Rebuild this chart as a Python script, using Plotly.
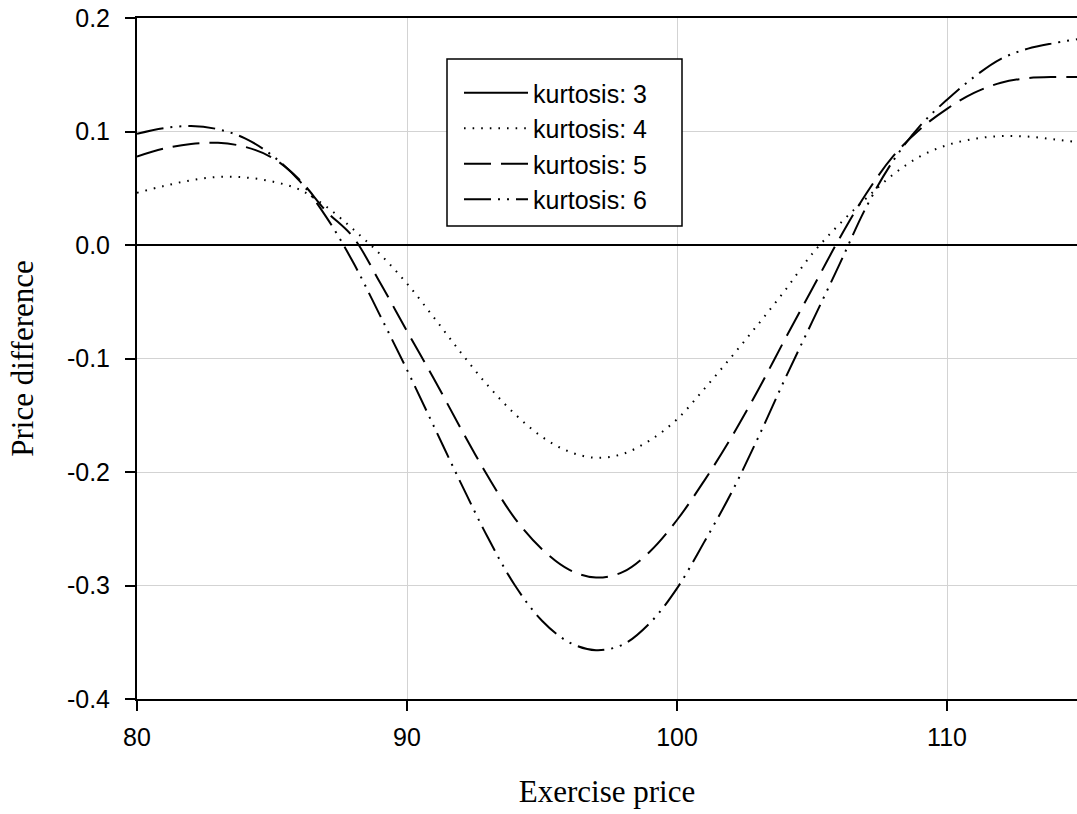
import plotly.graph_objects as go

exercise_price = [80, 81, 82, 83, 84, 85, 86, 87, 88, 89, 90, 91, 92, 93, 94, 95, 96, 97,
                  98, 99, 100, 101, 102, 103, 104, 105, 106, 107, 108, 109, 110, 111, 112,
                  113, 114, 115]

kurtosis_3 = [0.0] * len(exercise_price)

kurtosis_4 = [0.046, 0.052, 0.057, 0.060, 0.0595, 0.056, 0.049, 0.034, 0.014, -0.008,
              -0.034, -0.064, -0.095, -0.124, -0.149, -0.169, -0.182, -0.1875, -0.184,
              -0.172, -0.1536, -0.127, -0.099, -0.070, -0.040, -0.008, 0.018, 0.041,
              0.062, 0.078, 0.088, 0.0935, 0.096, 0.0955, 0.093, 0.090]

kurtosis_5 = [0.078, 0.085, 0.089, 0.090, 0.0865, 0.077, 0.058, 0.030, 0.007, -0.033,
              -0.076, -0.118, -0.162, -0.204, -0.241, -0.268, -0.286, -0.293, -0.288,
              -0.270, -0.2423, -0.208, -0.170, -0.128, -0.083, -0.039, 0.005, 0.045,
              0.078, 0.102, 0.120, 0.134, 0.143, 0.147, 0.148, 0.148]

kurtosis_6 = [0.098, 0.103, 0.1048, 0.102, 0.094, 0.079, 0.057, 0.025, -0.015, -0.062,
              -0.110, -0.160, -0.210, -0.258, -0.300, -0.331, -0.350, -0.357, -0.352,
              -0.333, -0.3025, -0.262, -0.219, -0.170, -0.118, -0.068, -0.018, 0.033,
              0.074, 0.105, 0.128, 0.148, 0.164, 0.173, 0.178, 0.182]

series_names = ["kurtosis: 3", "kurtosis: 4", "kurtosis: 5", "kurtosis: 6"]
series_values = [kurtosis_3, kurtosis_4, kurtosis_5, kurtosis_6]
series_dash = ["solid", "1.6px,7px", "27px,10px", "27px,7px,2px,7px,2px,7px"]

x_ticks = [80, 90, 100, 110]
y_ticks = [-0.4, -0.3, -0.2, -0.1, 0.0, 0.1, 0.2]

SANS = "Liberation Sans, Arial, sans-serif"
SERIF = "Liberation Serif, Times New Roman, serif"

fig = go.Figure()
for name, vals, dash in zip(series_names, series_values, series_dash):
    fig.add_trace(go.Scatter(
        x=exercise_price, y=vals, mode="lines", name=name,
        line=dict(color="black", width=2, dash=dash, shape="spline", smoothing=1.0),
    ))

# legend frame (white box with black border), legend entries drawn on top of it
fig.add_shape(type="rect", xref="paper", yref="paper",
              x0=(447 - 137) / 940, x1=(682 - 137) / 940,
              y0=(699 - 226) / 681, y1=(699 - 59) / 681,
              line=dict(color="black", width=1.5), fillcolor="white", layer="above")

fig.update_layout(
    width=1077, height=814,
    margin=dict(l=137, r=0, t=18, b=115),
    paper_bgcolor="white", plot_bgcolor="white",
    font=dict(family=SANS, size=25, color="black"),
    showlegend=True,
    legend=dict(
        x=(467 - 8 - 137) / 940, y=(699 - 70) / 681, xanchor="left", yanchor="top",
        bgcolor="rgba(0,0,0,0)", borderwidth=0,
        font=dict(size=25, family=SANS),
        tracegroupgap=0, itemwidth=64,
    ),
)

fig.update_xaxes(
    range=[80, 114.815], tickvals=x_ticks, ticktext=[str(v) for v in x_ticks],
    showgrid=True, gridcolor="#d3d3d3", gridwidth=1,
    showline=True, linecolor="black", linewidth=2, mirror=True,
    ticks="outside", ticklen=10, tickwidth=2, tickcolor="black",
    ticklabelstandoff=5,
    zeroline=False,
    title=dict(text="Exercise price", font=dict(family=SERIF, size=31), standoff=30),
)
fig.update_yaxes(
    range=[-0.4, 0.2], tickvals=y_ticks, ticktext=[f"{v:.1f}" for v in y_ticks],
    showgrid=True, gridcolor="#d3d3d3", gridwidth=1,
    showline=True, linecolor="black", linewidth=2, mirror=False,
    ticks="outside", ticklen=10, tickwidth=2, tickcolor="black",
    ticklabelstandoff=10,
    zeroline=False,
    title=dict(text="Price difference", font=dict(family=SERIF, size=31), standoff=24),
)

fig.write_html("out.html")
